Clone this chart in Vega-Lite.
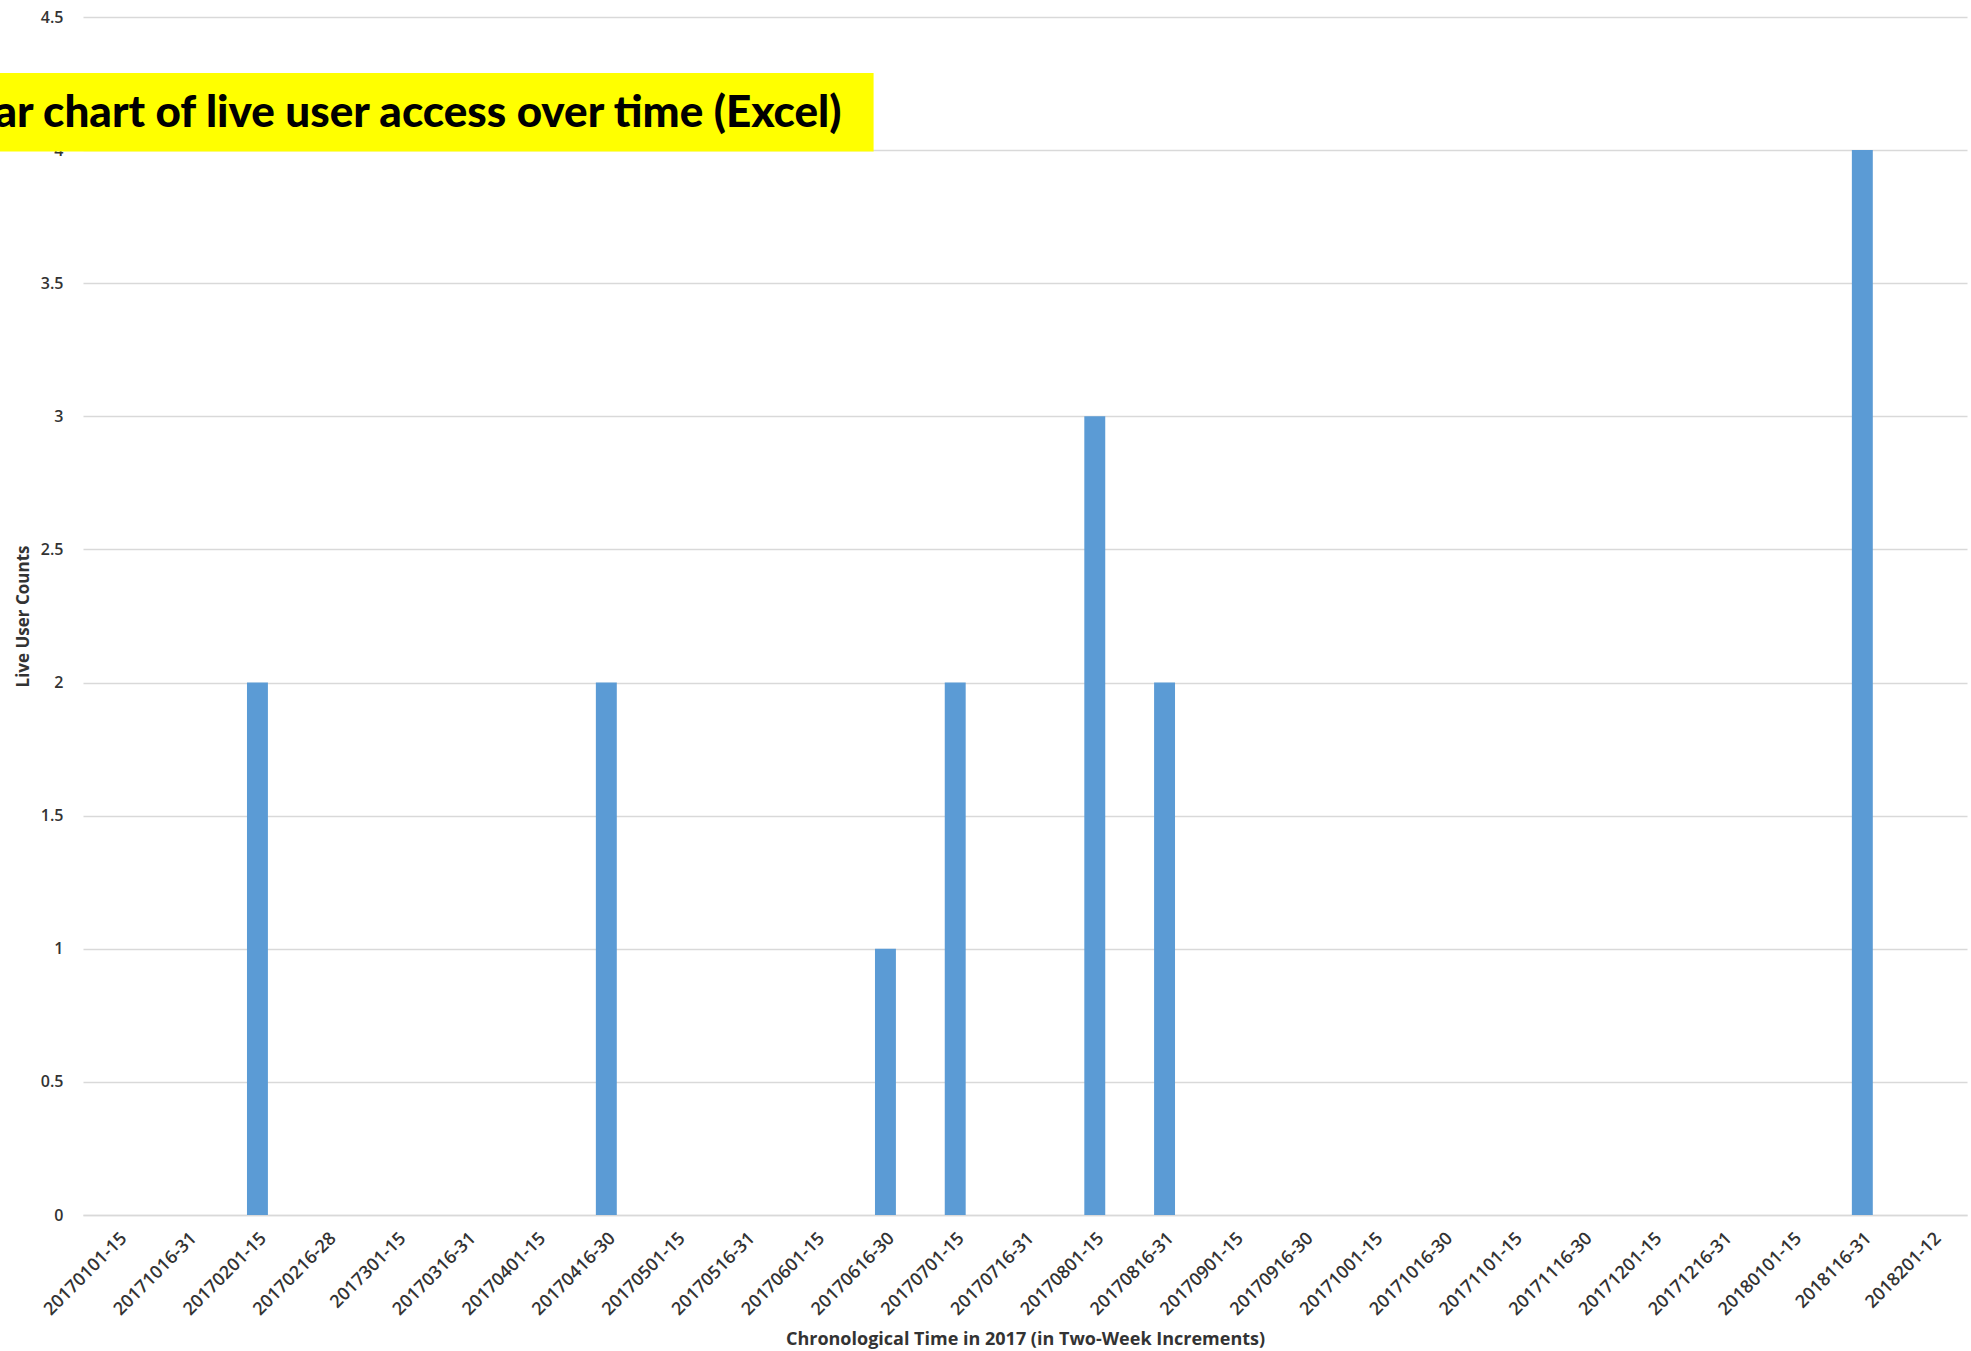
{
  "$schema": "https://vega.github.io/schema/vega-lite/v6.json",
  "width": 1884,
  "height": 1198,
  "autosize": "none",
  "padding": {"left": 83, "top": 17, "right": 4, "bottom": 136},
  "background": "white",
  "config": {"view": {"stroke": null}, "font": "Open Sans"},
  "layer": [
    {
      "data": {
        "values": [
          {"period": "20170101-15", "count": 0},
          {"period": "20171016-31", "count": 0},
          {"period": "20170201-15", "count": 2},
          {"period": "20170216-28", "count": 0},
          {"period": "2017301-15", "count": 0},
          {"period": "20170316-31", "count": 0},
          {"period": "20170401-15", "count": 0},
          {"period": "20170416-30", "count": 2},
          {"period": "20170501-15", "count": 0},
          {"period": "20170516-31", "count": 0},
          {"period": "20170601-15", "count": 0},
          {"period": "20170616-30", "count": 1},
          {"period": "20170701-15", "count": 2},
          {"period": "20170716-31", "count": 0},
          {"period": "20170801-15", "count": 3},
          {"period": "20170816-31", "count": 2},
          {"period": "20170901-15", "count": 0},
          {"period": "20170916-30", "count": 0},
          {"period": "20171001-15", "count": 0},
          {"period": "20171016-30", "count": 0},
          {"period": "20171101-15", "count": 0},
          {"period": "20171116-30", "count": 0},
          {"period": "20171201-15", "count": 0},
          {"period": "20171216-31", "count": 0},
          {"period": "20180101-15", "count": 0},
          {"period": "2018116-31", "count": 4},
          {"period": "2018201-12", "count": 0}
        ]
      },
      "mark": {"type": "bar", "color": "#5B9BD5"},
      "encoding": {
        "x": {
          "field": "period",
          "type": "nominal",
          "sort": null,
          "scale": {"paddingInner": 0.7, "paddingOuter": 0.35},
          "axis": {
            "domain": true,
            "domainColor": "#D9D9D9",
            "domainWidth": 1.5,
            "ticks": false,
            "labelAngle": -45,
            "labelFontSize": 18,
            "labelFontWeight": 600,
            "labelColor": "#333333",
            "labelPadding": 14,
            "title": "Chronological  Time in 2017 (in Two-Week Increments)",
            "titleFontSize": 18,
            "titleFontWeight": "bold",
            "titleColor": "#333333",
            "titlePadding": 12
          }
        },
        "y": {
          "field": "count",
          "type": "quantitative",
          "scale": {"domain": [0, 4.5], "nice": false},
          "axis": {
            "values": [0, 0.5, 1, 1.5, 2, 2.5, 3, 3.5, 4, 4.5],
            "format": "~g",
            "grid": true,
            "gridColor": "#D9D9D9",
            "gridWidth": 1.5,
            "domain": false,
            "ticks": false,
            "labelFontSize": 16,
            "labelFontWeight": 600,
            "labelColor": "#333333",
            "labelPadding": 20,
            "title": "Live User Counts",
            "titleFontSize": 17,
            "titleFontWeight": "bold",
            "titleColor": "#333333",
            "titlePadding": 8
          }
        }
      }
    },
    {
      "data": {"values": [{"note": "Bar chart of live user access over time (Excel)"}]},
      "mark": {"type": "rect", "color": "#FFFF00", "opacity": 1},
      "encoding": {
        "x": {"datum": -1.2, "type": "quantitative", "scale": {"domain": [0, 27], "nice": false, "zero": false}, "axis": null},
        "x2": {"datum": 11.33},
        "y": {"datum": 3.995, "type": "quantitative"},
        "y2": {"datum": 4.29}
      }
    },
    {
      "data": {"values": [{"note": "Bar chart of live user access over time (Excel)"}]},
      "mark": {"type": "text", "align": "right", "baseline": "middle", "font": "Lato", "fontWeight": 900, "fontSize": 44, "color": "black"},
      "encoding": {
        "x": {"datum": 10.87, "type": "quantitative", "scale": {"domain": [0, 27], "nice": false, "zero": false}, "axis": null},
        "y": {"datum": 4.135, "type": "quantitative"},
        "text": {"field": "note", "type": "nominal"}
      }
    }
  ],
  "resolve": {"scale": {"x": "independent"}}
}
